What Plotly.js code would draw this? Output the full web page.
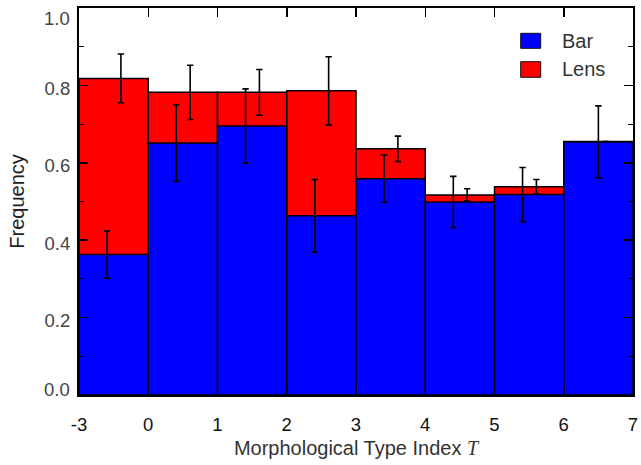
<!DOCTYPE html>
<html>
<head>
<meta charset="utf-8">
<script src="https://cdn.plot.ly/plotly-3.0.1.min.js"></script>
<style>
  html, body { margin: 0; padding: 0; background: #fff; }
  #chart { width: 641px; height: 465px; }
</style>
</head>
<body>
<div id="chart"></div>
<script>
// Morphological type bins (edges shown as tick labels, bins drawn at equal width)
const binEdgeLabels = ['-3', '0', '1', '2', '3', '4', '5', '6', '7'];

// Frequency axis ticks
const yTickVals  = [0, 0.2, 0.4, 0.6, 0.8, 1.0];
const yMinorVals = [0.1, 0.3, 0.5, 0.7, 0.9];

// Bar and lens frequencies per bin, with their uncertainties
const barFreq  = [0.363, 0.651, 0.695, 0.463, 0.559, 0.499, 0.518, 0.654];
const barErr   = [0.061, 0.099, 0.096, 0.094, 0.061, 0.066, 0.070, 0.093];
const lensFreq = [0.818, 0.782, 0.782, 0.786, 0.636, 0.517, 0.538, 0.655];
const lensErr  = [0.063, 0.070, 0.059, 0.088, 0.033, 0.016, 0.019, 0.000];

const seriesNames = ['Bar', 'Lens'];
const barColor = '#0000ff';
const lensColor = '#ff0000';

const centers = barFreq.map((_, i) => i + 0.5);
// error bars sit either side of the bin centre; a bin with no lens spread keeps its bar error centred
const barErrX = centers.map((c, i) => lensErr[i] > 0 ? c - 0.095 : c);
const lensErrX = centers.map(c => c + 0.105);

const outline = { color: '#000', width: 1.5 };
const errStyle = { type: 'data', visible: true, color: '#000', thickness: 1.6, width: 3.2 };

const traces = [
  { type: 'bar', name: seriesNames[1], x: centers, y: lensFreq, width: 1,
    marker: { color: lensColor, line: outline }, opacity: 1, showlegend: false, hoverinfo: 'skip' },
  { type: 'bar', name: seriesNames[0], x: centers, y: barFreq, width: 1,
    marker: { color: barColor, line: outline }, opacity: 1, showlegend: false, hoverinfo: 'skip' },
  { type: 'scatter', mode: 'markers', x: barErrX, y: barFreq,
    marker: { size: 1, opacity: 0 }, error_y: Object.assign({ array: barErr }, errStyle),
    showlegend: false, hoverinfo: 'skip' },
  { type: 'scatter', mode: 'markers', x: lensErrX, y: lensFreq,
    marker: { size: 1, opacity: 0 }, error_y: Object.assign({ array: lensErr }, errStyle),
    showlegend: false, hoverinfo: 'skip' }
];

const L = 79, R = 8, T = 8, B = 70;
const W = 641, H = 465;
const pw = W - L - R, ph = H - T - B;
const px2x = p => (p - L) / pw;
const py2y = p => (H - B - p) / ph;

const fontFamily = 'Liberation Sans, Arial, sans-serif';
const yTickFont = { family: fontFamily, size: 18.5, color: '#444' };
const fmt = v => v.toFixed(1);

// the end labels of the frequency axis are nudged inside the frame
const yLo = yTickVals[0], yHi = yTickVals[yTickVals.length - 1];
const yTickText = yTickVals.map(v => (v === yLo || v === yHi) ? '' : fmt(v));
const endLabels = [
  { y: yLo, yshift: 6 },
  { y: yHi, yshift: -10 }
].map(e => ({
  xref: 'paper', yref: 'y', x: 0, y: e.y, xshift: -7, yshift: e.yshift,
  xanchor: 'right', yanchor: 'middle', showarrow: false, text: fmt(e.y), font: yTickFont
}));

// legend swatches and labels
const swatches = [
  { name: seriesNames[0], color: barColor, top: 33.3, bottom: 48.3 },
  { name: seriesNames[1], color: lensColor, top: 61.7, bottom: 77.3 }
];
const shapes = swatches.map(s => ({
  type: 'rect', xref: 'paper', yref: 'paper',
  x0: px2x(520.7), x1: px2x(540.7), y0: py2y(s.bottom), y1: py2y(s.top),
  fillcolor: s.color, line: { color: '#111', width: 1 }
}));
const legendLabels = swatches.map(s => ({
  xref: 'paper', yref: 'paper', x: px2x(560), y: py2y((s.top + s.bottom) / 2),
  xanchor: 'left', yanchor: 'middle', showarrow: false, text: s.name,
  font: { family: fontFamily, size: 20, color: '#333' }
}));

const layout = {
  width: W, height: H,
  margin: { l: L, r: R, t: T, b: B, pad: 0 },
  paper_bgcolor: '#fff', plot_bgcolor: '#fff',
  barmode: 'overlay',
  showlegend: false,
  font: { family: fontFamily, color: '#333' },
  xaxis: {
    range: [0, 8], fixedrange: true,
    tickmode: 'array', tickvals: binEdgeLabels.map((_, i) => i), ticktext: binEdgeLabels,
    ticks: 'inside', ticklen: 9, tickwidth: 1.5, tickcolor: '#000',
    showline: true, linecolor: '#000', linewidth: 2, mirror: 'allticks',
    showgrid: false, zeroline: false,
    ticklabelstandoff: 12, ticklabeloverflow: 'allow',
    tickfont: { size: 18.5, color: '#111' },
    title: {
      text: "Morphological Type Index <span style=\"font-family:'Liberation Serif',serif\"><i>T</i></span>",
      font: { size: 20, color: '#333' }, standoff: 7
    }
  },
  yaxis: {
    range: [yLo, yHi], fixedrange: true,
    tickmode: 'array', tickvals: yTickVals, ticktext: yTickText,
    ticks: 'inside', ticklen: 9, tickwidth: 1.5, tickcolor: '#000',
    minor: { tickmode: 'array', tickvals: yMinorVals, ticks: 'inside', ticklen: 5, tickwidth: 1.2, tickcolor: '#000', showgrid: false },
    showline: true, linecolor: '#000', linewidth: 2, mirror: 'allticks',
    showgrid: false, zeroline: false,
    ticklabelstandoff: 3, ticklabelshift: 3, ticklabeloverflow: 'allow',
    tickfont: yTickFont,
    title: { text: 'Frequency', font: { size: 20, color: '#222' }, standoff: 15 }
  },
  shapes: shapes,
  annotations: endLabels.concat(legendLabels)
};

Plotly.newPlot('chart', traces, layout, { displayModeBar: false, staticPlot: true });
</script>
</body>
</html>
